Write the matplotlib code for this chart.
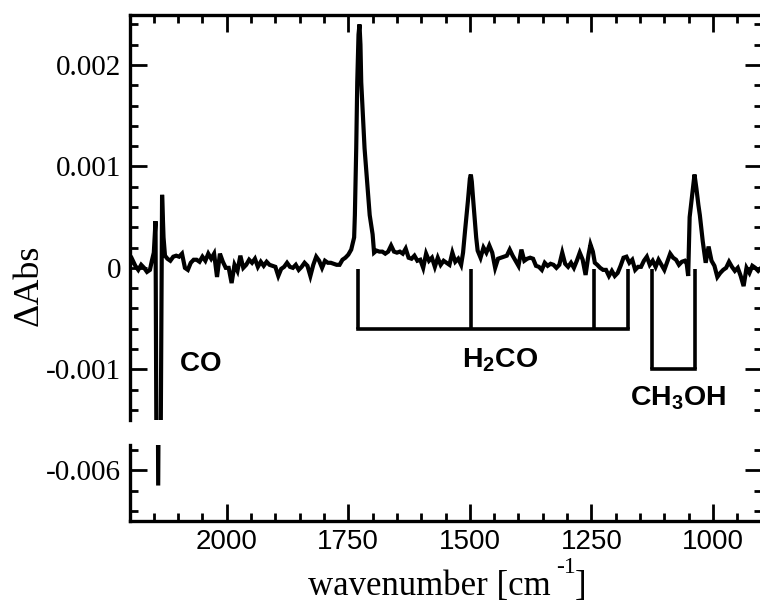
import numpy as np
import matplotlib
matplotlib.use('Agg')
import matplotlib.pyplot as plt
from matplotlib.ticker import MultipleLocator, FixedLocator, FixedFormatter

plt.rcParams['font.family'] = 'Liberation Serif'
plt.rcParams['mathtext.fontset'] = 'custom'
plt.rcParams['mathtext.bf'] = 'Liberation Sans:bold'
plt.rcParams['mathtext.rm'] = 'Liberation Sans'

# spectrum (dAbs in units of 1e-3)
wn_co = [2200, 2194, 2188, 2182, 2176, 2170, 2164, 2158, 2154, 2150, 2146.5,
         2141, 2133, 2130, 2127]
abs_co = [.02, .08, .02, -.02, .03, .0, -.04, -.02, .07, .15, .46,
          -6.15, .72, .3, .12]

wn_base = list(range(2122, 1738, -6))
abs_base = [.09, .07, .11, .12, .11, .14, .0, -.02, .05, .08, .08, .06, .11, .07,
            .14, .09, .14, -.09, .14, .06, .0,
            .0, -.15, .03, -.03, .12, .0, .03, .08, .05, .09, .01, .06, .02, .06,
            .03, .02, .01, -.08, -.01, .01, .05, .01,
            -.0, .03, -.02, .01, .05, .02, -.08, .03, .11, .07, .0, .07, .05, .05,
            .04, .03, .03, .08, .1, .13, .18]

wn_h2co_1 = [1738, 1736.5, 1733.7, 1731.6, 1729, 1727, 1725, 1723.4, 1716.6, 1706, 1700, 1697]
abs_h2co_1 = [.3, .52, 1.18, 1.83, 2.3, 2.4, 2.2, 1.83, 1.18, .52, .33, .15]

wn_mid_1 = list(range(1692, 1514, -6))
abs_mid_1 = [.17, .16, .16, .14, .16, .22, .16, .15, .16, .14, .19, .10, .09, .12,
             .07, .08, .0, .14, .07, .1, .01, .1, .03, .07,
             .05, .03, .15, .06, .09, .03]

wn_h2co_2 = [1514, 1510, 1504, 1500, 1498, 1496, 1493, 1487, 1484]
abs_h2co_2 = [.15, .36, .66, .88, .92, .85, .66, .3, .17]

wn_mid_2 = list(range(1478, 1256, -6))
abs_mid_2 = [.1, .2, .15, .22, .15, .0, .09, .10, .11, .12, .18, .12, .07, .02, .18,
             .07, .09, .1, .09, .02, .01, -.02, .05, .02, .04, .03, .0, .03, .15,
             .04, .01, .05, .0, .07, .15, .08, -.07]

wn_mid_3 = [1256, 1252, 1247, 1243, 1238, 1232, 1226, 1220, 1214, 1208, 1202, 1196,
            1190, 1184, 1178, 1172, 1166, 1160, 1154, 1148, 1142, 1136, 1130, 1124,
            1118, 1112, 1106, 1100, 1094, 1088, 1082, 1076, 1070, 1064, 1058, 1054]
abs_mid_3 = [.13, .23, .16, .05, .03, .0, -.02, -.02, -.08, -.03, -.08, -.05,
             .02, .1, .11, .05, .08, -.02, .01, .01, .07, .11, .03, .07,
             .01, .08, .03, -.02, .06, .14, .1, .08, .03, .06, .07, .04]

wn_ch3oh = [1051, 1048, 1042, 1038, 1034, 1030, 1027, 1021, 1015, 1009, 1003]
abs_ch3oh = [-.08, .5, .75, .92, .78, .62, .52, .26, .05, .21, .07]

wn_end = list(range(997, 895, -6))
abs_end = [.02, -.09, -.05, -.02, .0, .06, .01, -.03, .0, -.08, -.18, .0, -.05, .02,
           .0, -.03, .0]

wavenumber = wn_co + wn_base + wn_h2co_1 + wn_mid_1 + wn_h2co_2 + wn_mid_2 + wn_mid_3 + wn_ch3oh + wn_end
dabs = abs_co + abs_base + abs_h2co_1 + abs_mid_1 + abs_h2co_2 + abs_mid_2 + abs_mid_3 + abs_ch3oh + abs_end
dabs = np.array(dabs) * 1e-3

# band markers
h2co_bands = [1731, 1497.5, 1245, 1175]
ch3oh_bands = [1125, 1036]
marker_top = -0.00001
h2co_level = -0.0006
ch3oh_level = -0.001

x_major = [2000, 1750, 1500, 1250, 1000]
x_labels = ['2000', '1750', '1500', '1250', '1000']
y_major_up = [0.002, 0.001, 0, -0.001]
y_labels_up = ['0.002', '0.001', '0', '-0.001']
y_major_low = [-0.006]
y_labels_low = ['-0.006']

W, H = 760, 604
fig = plt.figure(figsize=(W / 100, H / 100), dpi=100)


def box(l, t, r, b):
    return [l / W, 1 - b / H, (r - l) / W, (b - t) / H]


ax1 = fig.add_axes(box(129.5, 15.3, 761.6, 420))
ax2 = fig.add_axes(box(129.5, 445, 761.6, 521))

for ax in (ax1, ax2):
    ax.plot(wavenumber, dabs, color='k', lw=3, solid_joinstyle='miter')
    ax.set_xlim(2200, 900)
    ax.xaxis.set_major_locator(FixedLocator(x_major))
    ax.xaxis.set_minor_locator(MultipleLocator(50))
    ax.yaxis.set_minor_locator(MultipleLocator(0.0002))
    ax.tick_params(which='major', direction='in', length=12, width=2, left=True, right=True,
                   labelsize=21, pad=6)
    ax.tick_params(which='minor', direction='in', length=6, width=2, left=True, right=True)
    for s in ax.spines.values():
        s.set_linewidth(2.4)
    ax.patch.set_visible(False)

ax1.set_ylim(-0.0015, 0.00249)
ax1.yaxis.set_major_locator(FixedLocator(y_major_up))
ax1.yaxis.set_major_formatter(FixedFormatter(y_labels_up))
ax1.spines['bottom'].set_visible(False)
ax1.tick_params(which='both', top=True, bottom=False, labelbottom=False)

ax2.set_ylim(-0.0065, -0.00575)
ax2.yaxis.set_major_locator(FixedLocator(y_major_low))
ax2.yaxis.set_major_formatter(FixedFormatter(y_labels_low))
ax2.spines['top'].set_visible(False)
ax2.tick_params(which='both', top=False, bottom=True)
ax2.set_xticklabels(x_labels, fontfamily='Liberation Sans', fontsize=20)
ax2.tick_params(axis='x', which='major', pad=6)

# band markers
for b in h2co_bands:
    ax1.plot([b, b], [marker_top, h2co_level], color='k', lw=2.6, solid_capstyle='butt')
ax1.plot([h2co_bands[0], h2co_bands[-1]], [h2co_level, h2co_level], color='k', lw=2.6,
         solid_capstyle='projecting')
for b in ch3oh_bands:
    ax1.plot([b, b], [marker_top, ch3oh_level], color='k', lw=2.6, solid_capstyle='butt')
ax1.plot(ch3oh_bands, [ch3oh_level, ch3oh_level], color='k', lw=2.6, solid_capstyle='projecting')


def put(x, y, s, **kw):
    return fig.text(x / W, 1 - y / H, s, **kw)


put(179, 371, r'$\mathbf{CO}$', fontsize=20, va='baseline')
put(462, 368, r'$\mathbf{H_2CO}$', fontsize=20.5, va='baseline')
put(630, 405, r'$\mathbf{CH_3OH}$', fontsize=20.5, va='baseline')

put(29, 285, '\u0394Abs', fontsize=26, rotation=90, ha='center', va='center')
put(308, 595.5, 'wavenumber [cm', fontsize=25, va='baseline')
put(556, 573, '-1', fontsize=17, va='baseline')
put(575, 595.5, ']', fontsize=25, va='baseline')

fig.savefig('out.png', dpi=100)
